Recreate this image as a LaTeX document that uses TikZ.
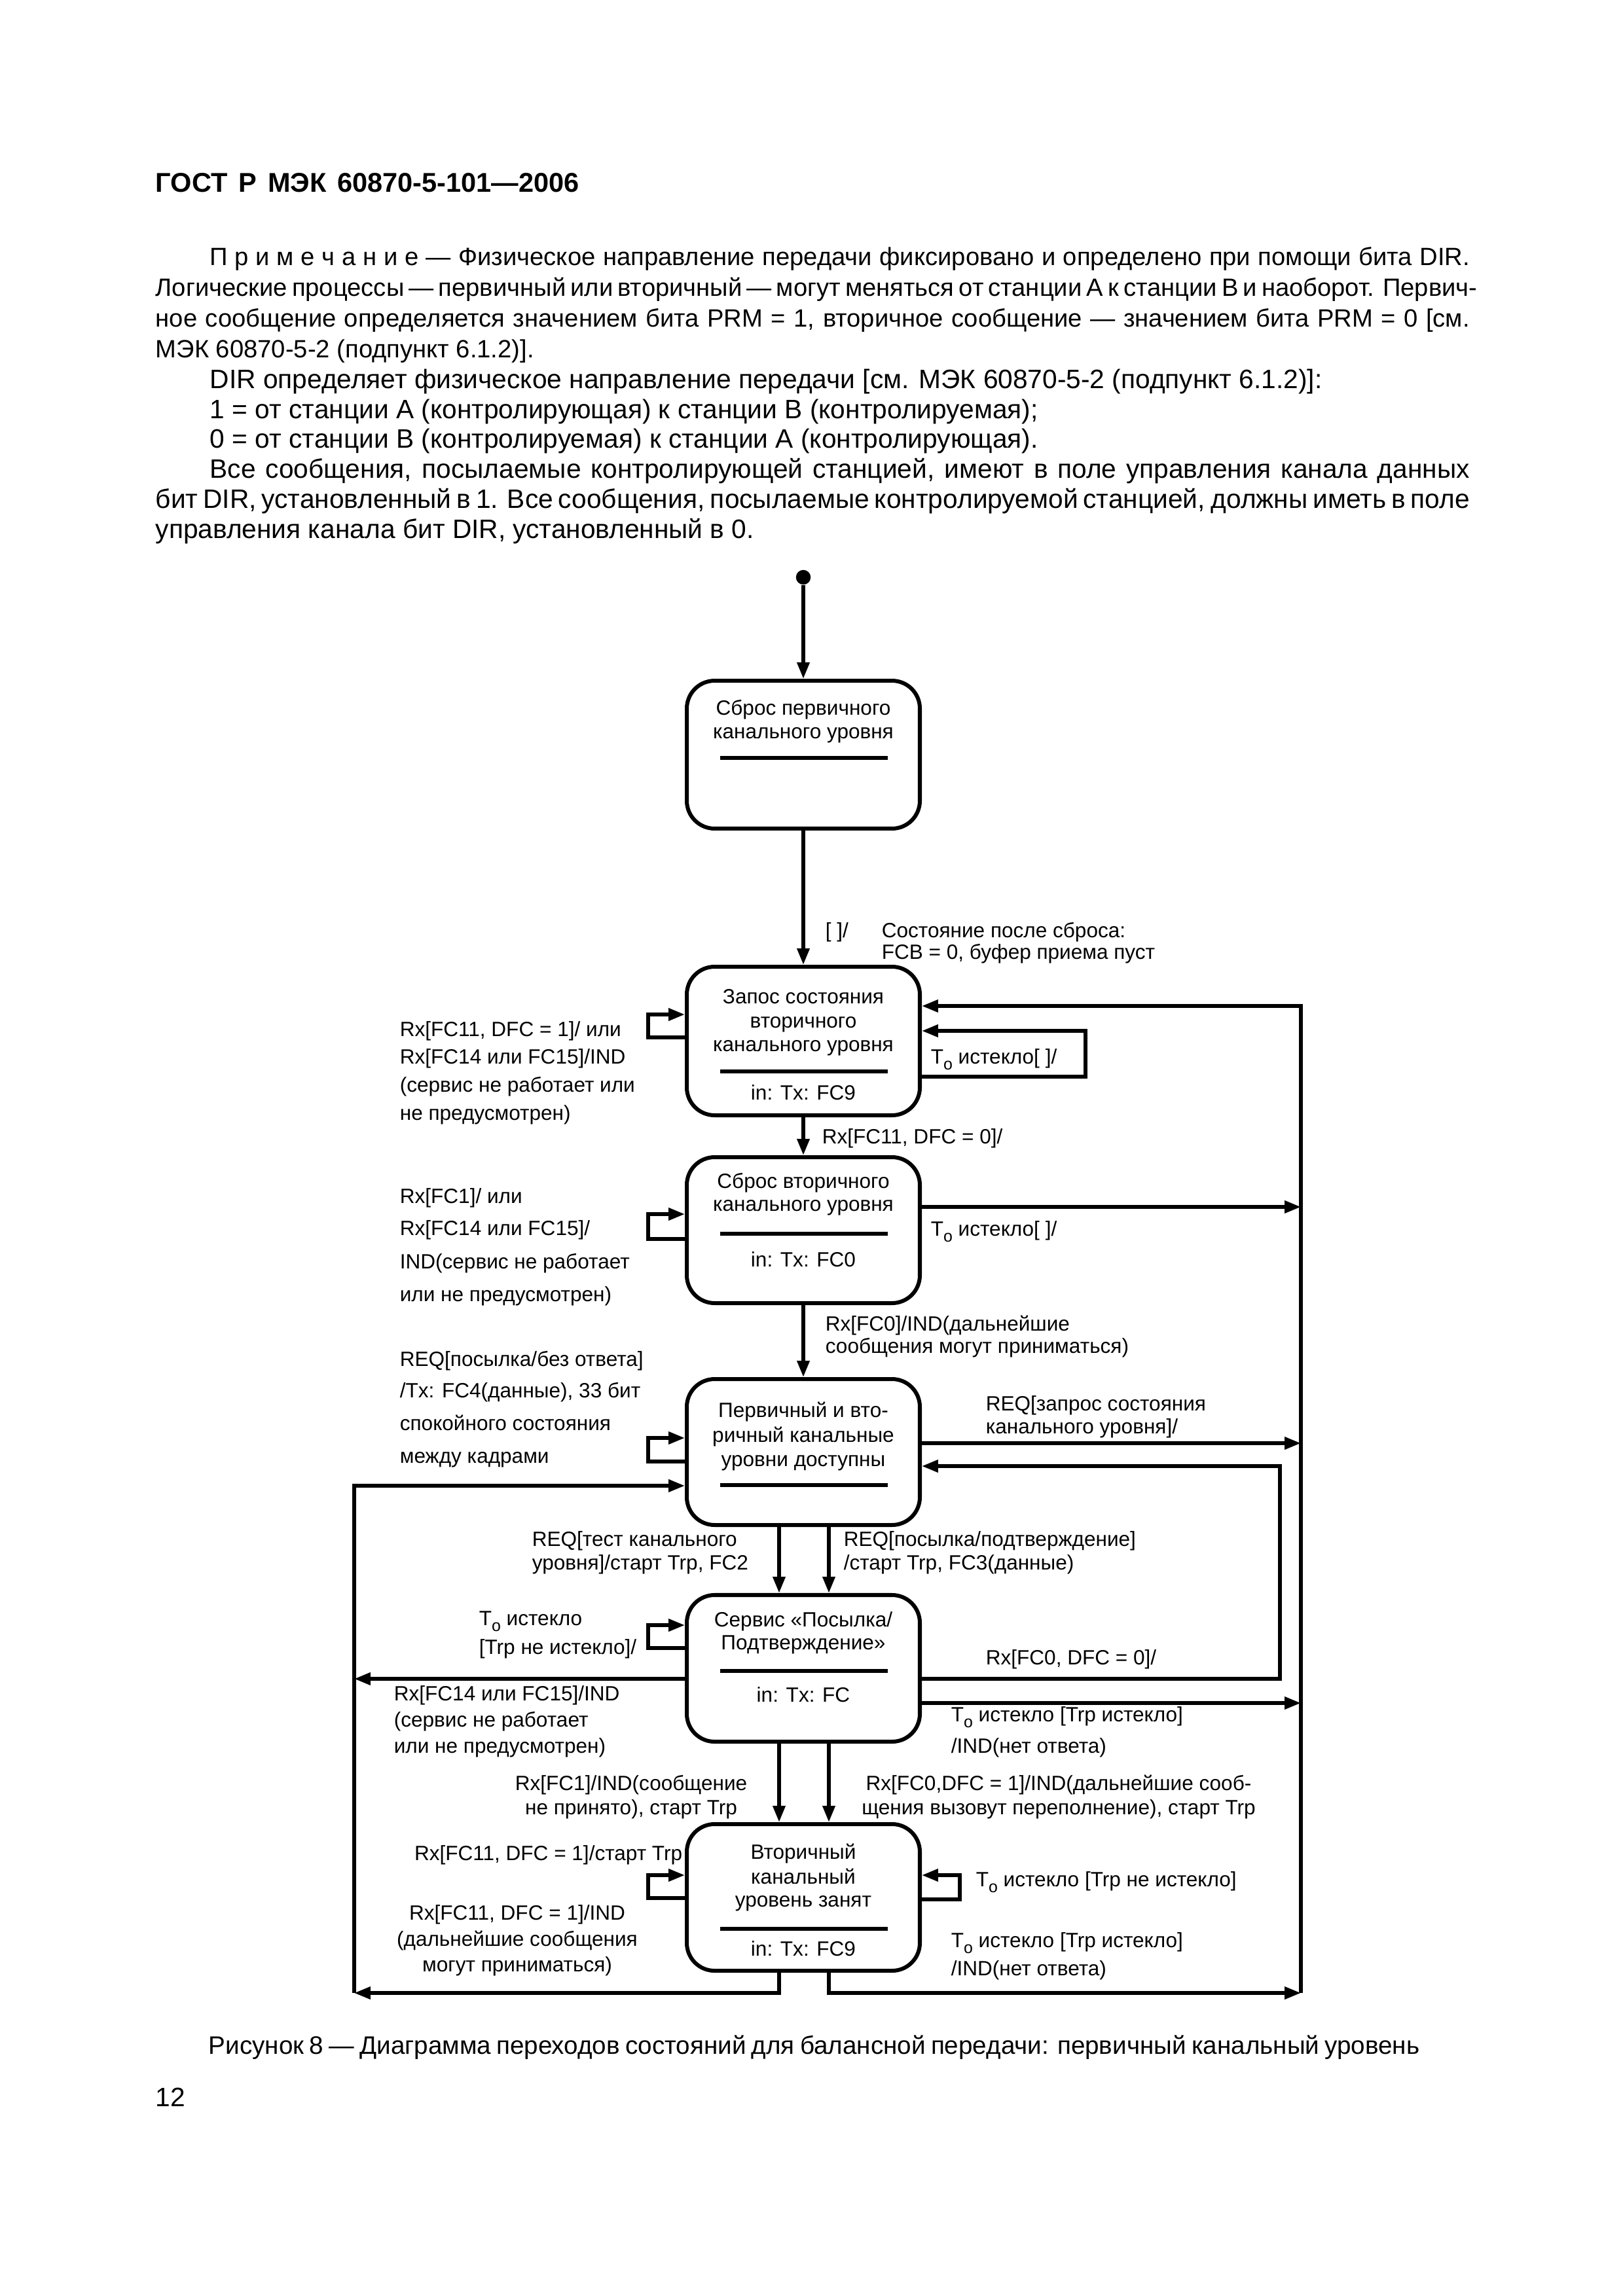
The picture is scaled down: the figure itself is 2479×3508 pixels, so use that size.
\documentclass[tikz,border=0pt]{standalone}
\usepackage{fontspec}
\setmainfont{Liberation Sans}
\usetikzlibrary{arrows.meta}
\newcommand\dfont{\fontsize{7.6pt}{9pt}\selectfont}
\newcommand\bfont{\fontsize{9.8pt}{12pt}\selectfont}
\newcommand\hfont{\fontsize{10pt}{12pt}\selectfont}
\newcommand\cfont{\fontsize{9.3pt}{11pt}\selectfont}
\newcommand\nfont{\fontsize{9.2pt}{11pt}\selectfont}
\newcommand\Tsub{T\raisebox{-0.55ex}{\fontsize{6pt}{6pt}\selectfont o}}
\tikzset{
  box/.style={draw, line width=1.45pt, rounded corners=3.6mm, minimum width=30.14mm, inner sep=0pt},
  conn/.style={line width=1.3pt, -{Triangle[length=2.1mm,width=1.55mm]}},
  sepline/.style={line width=1.5pt},
  lblc/.style={font=\dfont, inner sep=0pt, anchor=base},
  lbll/.style={font=\dfont, inner sep=0pt, anchor=base west},
  lblr/.style={font=\dfont, inner sep=0pt, anchor=base east},
  bodyl/.style={font=\bfont, inner sep=0pt, anchor=base west},
  notel/.style={font=\nfont, inner sep=0pt, anchor=base west},
}
\begin{document}
\begin{tikzpicture}[x={(0.084667mm,0)}, y={(0,-0.084667mm)}]
\useasboundingbox (0,0) rectangle (2479,3508);
\fill[white] (0,0) rectangle (2479,3508);

% header and text
\node[bodyl, font=\hfont\bfseries] (hdr) at (237,293) {\makebox[54.78mm][s]{ГОСТ Р МЭК 60870-5-101—2006}};
\node[notel] (n1) at (320,405) {\makebox[162.9mm][s]{П\kern.28em р\kern.28em и\kern.28em м\kern.28em е\kern.28em ч\kern.28em а\kern.28em н\kern.28em и\kern.28em е — Физическое направление передачи фиксировано и определено при помощи бита DIR.}};
\node[notel] (n2) at (237,452) {\makebox[169.93mm][s]{Логические процессы — первичный или вторичный — могут меняться от станции А к станции В и наоборот. Первич-}};
\node[notel] (n3) at (237,499) {\makebox[169.93mm][s]{ное сообщение определяется значением бита PRM = 1, вторичное сообщение — значением бита PRM = 0 [см.}};
\node[notel] (n4) at (237,546) {МЭК 60870-5-2 (подпункт 6.1.2)].};
\node[bodyl] (t1) at (320,593) {DIR определяет физическое направление передачи [см. МЭК 60870-5-2 (подпункт 6.1.2)]:};
\node[bodyl] (t2) at (320,639) {1 = от станции А (контролирующая) к станции В (контролируемая);};
\node[bodyl] (t3) at (320,684) {0 = от станции В (контролируемая) к станции А (контролирующая).};
\node[bodyl] (t4) at (320,730) {\makebox[162.9mm][s]{Все сообщения, посылаемые контролирующей станцией, имеют в поле управления канала данных}};
\node[bodyl] (t5) at (237,776) {\makebox[169.93mm][s]{бит DIR, установленный в 1. Все сообщения, посылаемые контролируемой станцией, должны иметь в поле}};
\node[bodyl] (t6) at (237,822) {управления канала бит DIR, установленный в 0.};

% boxes
\node[circle, fill=black, inner sep=0pt, minimum size=1.9mm] (start) at (1227,882) {};
\node[box, minimum height=19.13mm] (b1) at (1227,1153) {};
\node[box, minimum height=19.22mm] (b2) at (1227,1590.5) {};
\node[box, minimum height=18.88mm] (b3) at (1227,1879.5) {};
\node[box, minimum height=18.88mm] (b4) at (1227,2218.5) {};
\node[box, minimum height=18.97mm] (b5) at (1227,2549) {};
\node[box, minimum height=18.97mm] (b6) at (1227,2899) {};

% box texts
\node[lblc] (b1a) at (1227,1092) {Сброс первичного};
\node[lblc] (b1b) at (1227,1128) {канального уровня};
\node[lblc] (b2a) at (1227,1533) {Запос состояния};
\node[lblc] (b2b) at (1227,1570) {вторичного};
\node[lblc] (b2c) at (1227,1606) {канального уровня};
\node[lblc] (b2d) at (1227,1680) {in: Tx: FC9};
\node[lblc] (b3a) at (1227,1815) {Сброс вторичного};
\node[lblc] (b3b) at (1227,1850) {канального уровня};
\node[lblc] (b3c) at (1227,1935) {in: Tx: FC0};
\node[lblc] (b4a) at (1227,2165) {Первичный и вто-};
\node[lblc] (b4b) at (1227,2203) {ричный канальные};
\node[lblc] (b4c) at (1227,2240) {уровни доступны};
\node[lblc] (b5a) at (1227,2485) {Сервис «Посылка/};
\node[lblc] (b5b) at (1227,2520) {Подтверждение»};
\node[lblc] (b5c) at (1227,2600) {in: Tx: FC};
\node[lblc] (b6a) at (1227,2840) {Вторичный};
\node[lblc] (b6b) at (1227,2878) {канальный};
\node[lblc] (b6c) at (1227,2913) {уровень занят};
\node[lblc] (b6d) at (1227,2988) {in: Tx: FC9};

% separators
\draw[sepline] (1100,1158) -- (1356,1158);
\draw[sepline] (1100,1637) -- (1356,1637);
\draw[sepline] (1100,1885) -- (1356,1885);
\draw[sepline] (1100,2269) -- (1356,2269);
\draw[sepline] (1100,2553) -- (1356,2553);
\draw[sepline] (1100,2947) -- (1356,2947);

% bus corners
\coordinate (LB) at (541,3045);
\coordinate (RB) at (1987,3045);

% connectors
\draw[conn] (start) -- (b1.north);
\draw[conn] (b1.south) -- (b2.north);
\draw[conn] (b2.west |- 0,1585) -- (990,1585) -- (990,1550) -- (b2.west |- 0,1550);
\draw[conn] (b2.east |- 0,1645) -- (1658,1645) -- (1658,1575) -- (b2.east |- 0,1575);
\draw[conn] (RB) -- (1987,1537) -- (b2.east |- 0,1537);
\draw[conn] (b2.south) -- (b3.north);
\draw[conn] (b3.west |- 0,1893) -- (990,1893) -- (990,1855) -- (b3.west |- 0,1855);
\draw[conn] (b3.east |- 0,1844) -- (1987,1844);
\draw[conn] (b3.south) -- (b4.north);
\draw[conn] (b4.west |- 0,2233) -- (990,2233) -- (990,2197) -- (b4.west |- 0,2197);
\draw[conn] (LB) -- (541,2270) -- (b4.west |- 0,2270);
\draw[conn] (b4.east |- 0,2205) -- (1987,2205);
\draw[conn] (b5.east |- 0,2565) -- (1955,2565) -- (1955,2240) -- (b4.east |- 0,2240);
\draw[conn] (b4.south -| 1190,0) -- (b5.north -| 1190,0);
\draw[conn] (b4.south -| 1266,0) -- (b5.north -| 1266,0);
\draw[conn] (b5.west |- 0,2518) -- (990,2518) -- (990,2483) -- (b5.west |- 0,2483);
\draw[conn] (b5.west |- 0,2565) -- (541,2565);
\draw[conn] (b5.east |- 0,2602) -- (1987,2602);
\draw[conn] (b5.south -| 1190,0) -- (b6.north -| 1190,0);
\draw[conn] (b5.south -| 1266,0) -- (b6.north -| 1266,0);
\draw[conn] (b6.west |- 0,2900) -- (990,2900) -- (990,2865) -- (b6.west |- 0,2865);
\draw[conn] (b6.east |- 0,2902) -- (1466,2902) -- (1466,2865) -- (b6.east |- 0,2865);
\draw[conn] (b6.south -| 1190,0) -- (1190,3045) -- (LB);
\draw[conn] (b6.south -| 1266,0) -- (1266,3045) -- (RB);

% labels
\node[lbll] (l1) at (1260,1432) {[ ]/};
\node[lbll] (l2a) at (1346,1432) {Состояние после сброса:};
\node[lbll] (l2b) at (1346,1465) {FCB = 0, буфер приема пуст};
\node[lbll] (l3a) at (610,1583) {Rx[FC11, DFC = 1]/ или};
\node[lbll] (l3b) at (610,1625) {Rx[FC14 или FC15]/IND};
\node[lbll] (l3c) at (610,1668) {(сервис не работает или};
\node[lbll] (l3d) at (610,1711) {не предусмотрен)};
\node[lbll] (l4) at (1421,1625) {\Tsub\ истекло[ ]/};
\node[lbll] (l5) at (1255,1747) {Rx[FC11, DFC = 0]/};
\node[lbll] (l6a) at (610,1838) {Rx[FC1]/ или};
\node[lbll] (l6b) at (610,1887) {Rx[FC14 или FC15]/};
\node[lbll] (l6c) at (610,1938) {IND(сервис не работает};
\node[lbll] (l6d) at (610,1988) {или не предусмотрен)};
\node[lbll] (l7) at (1421,1888) {\Tsub\ истекло[ ]/};
\node[lbll] (l8a) at (1260,2033) {Rx[FC0]/IND(дальнейшие};
\node[lbll] (l8b) at (1260,2067) {сообщения могут приниматься)};
\node[lbll] (l9a) at (610,2087) {REQ[посылка/без ответа]};
\node[lbll] (l9b) at (610,2135) {/Tx: FC4(данные), 33 бит};
\node[lbll] (l9c) at (610,2185) {спокойного состояния};
\node[lbll] (l9d) at (610,2235) {между кадрами};
\node[lbll] (l10a) at (1505,2155) {REQ[запрос состояния};
\node[lbll] (l10b) at (1505,2190) {канального уровня]/};
\node[lbll] (l11a) at (812,2362) {REQ[тест канального};
\node[lbll] (l11b) at (812,2398) {уровня]/старт Trp, FC2};
\node[lbll] (l12a) at (1288,2362) {REQ[посылка/подтверждение]};
\node[lbll] (l12b) at (1288,2398) {/старт Trp, FC3(данные)};
\node[lbll] (l13a) at (731,2483) {\Tsub\ истекло};
\node[lbll] (l13b) at (731,2527) {[Trp не истекло]/};
\node[lbll] (l14) at (1505,2543) {Rx[FC0, DFC = 0]/};
\node[lbll] (l15a) at (601,2598) {Rx[FC14 или FC15]/IND};
\node[lbll] (l15b) at (601,2638) {(сервис не работает};
\node[lbll] (l15c) at (601,2678) {или не предусмотрен)};
\node[lbll] (l16a) at (1452,2630) {\Tsub\ истекло [Trp истекло]};
\node[lbll] (l16b) at (1452,2678) {/IND(нет ответа)};
\node[lblc] (l17a) at (964,2735) {Rx[FC1]/IND(сообщение};
\node[lblc] (l17b) at (964,2772) {не принято), старт Trp};
\node[lblc] (l18a) at (1617,2735) {Rx[FC0,DFC = 1]/IND(дальнейшие сооб-};
\node[lblc] (l18b) at (1617,2772) {щения вызовут переполнение), старт Trp};
\node[lblr] (l19) at (1043,2842) {Rx[FC11, DFC = 1]/старт Trp};
\node[lblc] (l20a) at (790,2933) {Rx[FC11, DFC = 1]/IND};
\node[lblc] (l20b) at (790,2973) {(дальнейшие сообщения};
\node[lblc] (l20c) at (790,3012) {могут приниматься)};
\node[lbll] (l21) at (1490,2882) {\Tsub\ истекло [Trp не истекло]};
\node[lbll] (l22a) at (1452,2975) {\Tsub\ истекло [Trp истекло]};
\node[lbll] (l22b) at (1452,3018) {/IND(нет ответа)};

% caption and page number
\node[bodyl, font=\cfont] (cap) at (318,3138) {\makebox[156.6mm][s]{Рисунок 8 — Диаграмма переходов состояний для балансной передачи: первичный канальный уровень}};
\node[bodyl] (pg) at (237,3218) {12};
\end{tikzpicture}
\end{document}
